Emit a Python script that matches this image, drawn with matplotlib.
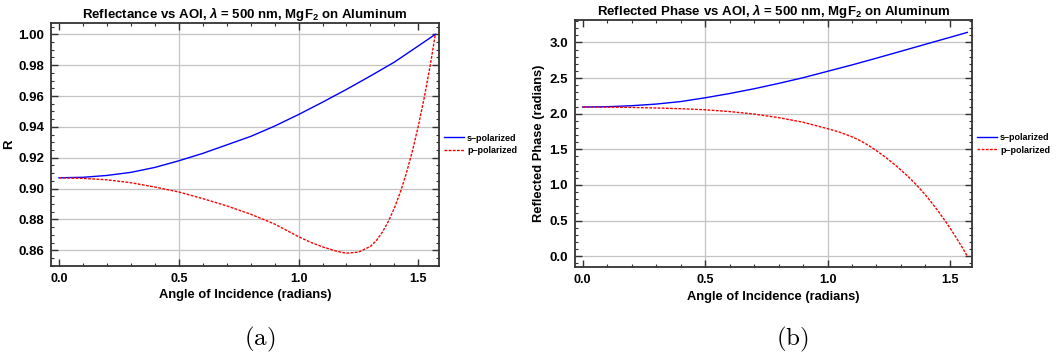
import numpy as np
import matplotlib
matplotlib.use("Agg")
import matplotlib.pyplot as plt
from matplotlib.ticker import MultipleLocator, FormatStrFormatter

plt.rcParams['font.family'] = ['Liberation Sans', 'DejaVu Sans']
plt.rcParams['font.weight'] = 'bold'
plt.rcParams['axes.titleweight'] = 'bold'
plt.rcParams['axes.labelweight'] = 'bold'
plt.rcParams['mathtext.fontset'] = 'custom'
plt.rcParams['mathtext.rm'] = 'Liberation Sans:bold'
plt.rcParams['mathtext.it'] = 'Liberation Sans:bold:italic'
plt.rcParams['mathtext.bf'] = 'Liberation Sans:bold'

# values
aoi = [0.0, 0.1, 0.2, 0.3, 0.4, 0.5, 0.6, 0.7, 0.8, 0.9, 1.0, 1.1, 1.2, 1.3, 1.4, 1.5, 1.5708]
R_s = [0.907, 0.9073, 0.9085, 0.9105, 0.9137, 0.918, 0.9228, 0.9283, 0.9338, 0.9405,
       0.948, 0.956, 0.9643, 0.973, 0.982, 0.9925, 1.0]
ph_s = [2.094, 2.098, 2.112, 2.135, 2.17, 2.223, 2.283, 2.35, 2.425, 2.505,
        2.595, 2.685, 2.78, 2.877, 2.975, 3.072, 3.1416]

aoi_rp = [0.0, 0.1, 0.2, 0.3, 0.4, 0.5, 0.6, 0.7, 0.8, 0.9, 1.0, 1.05, 1.1, 1.15, 1.175,
          1.2, 1.25, 1.3, 1.325, 1.35, 1.375, 1.4, 1.425, 1.45, 1.475, 1.5, 1.525,
          1.55, 1.5708]
R_p = [0.907, 0.9066, 0.9057, 0.9038, 0.901, 0.8978, 0.8935, 0.8888, 0.8834, 0.877,
       0.8688, 0.8652, 0.8622, 0.8598, 0.8588, 0.8581, 0.8588, 0.8625, 0.8664, 0.8718,
       0.8788, 0.8874, 0.8978, 0.91, 0.9243, 0.9407, 0.9593, 0.9803, 1.0]

aoi_pp = [0.0, 0.1, 0.2, 0.3, 0.4, 0.5, 0.6, 0.7, 0.8, 0.9, 1.0, 1.05, 1.1, 1.125, 1.15,
          1.175, 1.2, 1.225, 1.25, 1.275, 1.3, 1.325, 1.35, 1.375, 1.4, 1.425, 1.45,
          1.475, 1.5, 1.525, 1.55, 1.5708]
ph_p = [2.093, 2.092, 2.088, 2.08, 2.07, 2.055, 2.03, 1.995, 1.945, 1.88,
        1.79, 1.74, 1.675, 1.636, 1.59, 1.538, 1.48, 1.418, 1.352, 1.282, 1.208, 1.1305,
        1.046, 0.955, 0.857, 0.751, 0.639, 0.52, 0.395, 0.262, 0.122, 0.0]

x_grid = [0.5, 1.0]

fig = plt.figure(figsize=(10.57, 3.58), dpi=100)
ax1 = fig.add_axes([0.0483, 0.257, 0.367, 0.679])
ax2 = fig.add_axes([0.544, 0.2528, 0.3756, 0.691])


def style(ax, ymaj, ymin, yfmt):
    ax.xaxis.set_major_locator(MultipleLocator(0.5))
    ax.xaxis.set_minor_locator(MultipleLocator(0.1))
    ax.yaxis.set_major_locator(MultipleLocator(ymaj))
    ax.yaxis.set_minor_locator(MultipleLocator(ymin))
    ax.xaxis.set_major_formatter(FormatStrFormatter('%.1f'))
    ax.yaxis.set_major_formatter(FormatStrFormatter(yfmt))
    ax.tick_params(which='both', direction='in', top=True, right=True, colors='#333333',
                   labelcolor='black')
    ax.tick_params(which='major', length=5, width=1.0)
    ax.tick_params(which='minor', length=2.5, width=0.8)
    ax.tick_params(axis='x', labelsize=9, pad=5)
    ax.tick_params(axis='y', labelsize=9.5, pad=5)
    for sp in ax.spines.values():
        sp.set_linewidth(1.3)
        sp.set_color('#333333')
    ax.grid(axis='y', which='major', color='#c4c4c4', lw=0.9)
    for g in x_grid:
        ax.axvline(g, color='#c4c4c4', lw=0.9, zorder=0.5)
    ax.set_xlabel('Angle of Incidence (radians)', fontsize=9.3, labelpad=3)


ax1.plot(aoi, R_s, color='blue', lw=1.0, label='s\u2013polarized')
ax1.plot(aoi_rp, R_p, color='red', lw=1.0, ls=(0, (2, 1)), label='p\u2013polarized')
style(ax1, 0.02, 0.005, '%.2f')
ax1.set_xlim(-0.033, 1.586)
ax1.set_ylim(0.8498, 1.0074)
ax1.set_ylabel('R', fontsize=9.5, labelpad=2)
ax1.set_title(r'Reflectance vs AOI, $\lambda$ = 500 nm, MgF$_2$ on Aluminum', fontsize=9.5, pad=3)

ax2.plot(aoi, ph_s, color='blue', lw=1.0, label='s\u2013polarized')
ax2.plot(aoi_pp, ph_p, color='red', lw=1.0, ls=(0, (2, 1)), label='p\u2013polarized')
style(ax2, 0.5, 0.1, '%.1f')
ax2.set_xlim(-0.031, 1.59)
ax2.set_ylim(-0.16, 3.314)
ax2.set_ylabel('Reflected Phase (radians)', fontsize=9.3, labelpad=3)
ax2.set_title(r'Reflected Phase vs AOI, $\lambda$ = 500 nm, MgF$_2$ on Aluminum', fontsize=9.5, pad=3)

for ax in (ax1, ax2):
    ax.legend(loc='center left', bbox_to_anchor=(1.0, 0.5), frameon=False, fontsize=6.5,
              handlelength=2.2, handletextpad=0.3, labelspacing=0.4, borderaxespad=0.2)

fig.text(0.246, 0.053, r'$\mathrm{(a)}$', fontsize=18, ha='center', va='center', math_fontfamily='cm')
fig.text(0.750, 0.053, r'$\mathrm{(b)}$', fontsize=18, ha='center', va='center', math_fontfamily='cm')

fig.savefig('out.png', dpi=100)
